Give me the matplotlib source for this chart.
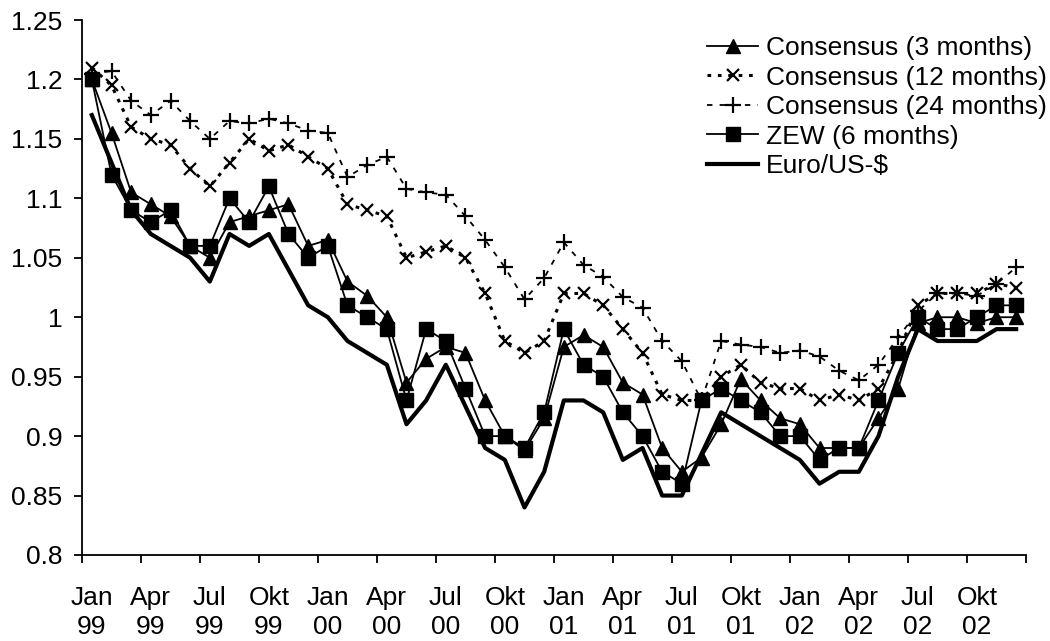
import matplotlib
matplotlib.use("Agg")
import matplotlib.pyplot as plt
import numpy as np

plt.rcParams['font.family'] = ['Liberation Sans', 'DejaVu Sans']

# quarterly tick labels, Jan 99 .. Okt 02 (48 monthly points)
tick_labels = ["Jan\n99", "Apr\n99", "Jul\n99", "Okt\n99",
               "Jan\n00", "Apr\n00", "Jul\n00", "Okt\n00",
               "Jan\n01", "Apr\n01", "Jul\n01", "Okt\n01",
               "Jan\n02", "Apr\n02", "Jul\n02", "Okt\n02"]

cons3 = [1.20, 1.155, 1.105, 1.095, 1.085, 1.06, 1.05, 1.08, 1.085, 1.09, 1.095, 1.06,
         1.065, 1.03, 1.018, 1.00, 0.945, 0.965, 0.975, 0.97, 0.93, 0.90, 0.888, 0.915,
         0.975, 0.985, 0.975, 0.945, 0.935, 0.89, 0.87, 0.882, 0.91, 0.948, 0.93, 0.915,
         0.91, 0.89, 0.89, 0.89, 0.915, 0.94, 0.995, 1.00, 1.00, 0.995, 1.00, 1.00]
cons12 = [1.21, 1.195, 1.16, 1.15, 1.145, 1.125, 1.11, 1.13, 1.15, 1.14, 1.145, 1.135,
          1.125, 1.095, 1.09, 1.085, 1.05, 1.055, 1.06, 1.05, 1.02, 0.98, 0.97, 0.98,
          1.02, 1.02, 1.01, 0.99, 0.97, 0.935, 0.93, 0.93, 0.95, 0.96, 0.945, 0.94,
          0.94, 0.93, 0.935, 0.93, 0.94, 0.97, 1.01, 1.02, 1.02, 1.02, 1.028, 1.025]
cons24 = [1.205, 1.207, 1.182, 1.17, 1.182, 1.165, 1.15, 1.165, 1.163, 1.167, 1.163, 1.157,
          1.155, 1.118, 1.128, 1.135, 1.108, 1.105, 1.103, 1.085, 1.065, 1.042, 1.015, 1.033,
          1.063, 1.044, 1.034, 1.017, 1.008, 0.98, 0.963, 0.93, 0.98, 0.977, 0.975, 0.97,
          0.972, 0.967, 0.955, 0.947, 0.96, 0.983, 1.005, 1.02, 1.02, 1.018, 1.028, 1.042]
zew = [1.20, 1.12, 1.09, 1.08, 1.09, 1.06, 1.06, 1.10, 1.08, 1.11, 1.07, 1.05,
       1.06, 1.01, 1.00, 0.99, 0.93, 0.99, 0.98, 0.94, 0.90, 0.90, 0.89, 0.92,
       0.99, 0.96, 0.95, 0.92, 0.90, 0.87, 0.86, 0.93, 0.94, 0.93, 0.92, 0.90,
       0.90, 0.88, 0.89, 0.89, 0.93, 0.97, 1.00, 0.99, 0.99, 1.00, 1.01, 1.01]
euro = [1.17, 1.13, 1.09, 1.07, 1.06, 1.05, 1.03, 1.07, 1.06, 1.07, 1.04, 1.01,
        1.00, 0.98, 0.97, 0.96, 0.91, 0.93, 0.96, 0.925, 0.89, 0.88, 0.84, 0.87,
        0.93, 0.93, 0.92, 0.88, 0.89, 0.85, 0.85, 0.885, 0.92, 0.91, 0.90, 0.89,
        0.88, 0.86, 0.87, 0.87, 0.90, 0.95, 0.99, 0.98, 0.98, 0.98, 0.99, 0.99]

y_ticks = [0.8, 0.85, 0.9, 0.95, 1.0, 1.05, 1.1, 1.15, 1.2, 1.25]
y_labels = ["0.8", "0.85", "0.9", "0.95", "1", "1.05", "1.1", "1.15", "1.2", "1.25"]

x = np.arange(len(euro))
fs = 19

fig = plt.figure(figsize=(10.5, 6.41), dpi=100)
ax = fig.add_axes([82 / 1050, 1 - 555 / 641, 944 / 1050, 535 / 641])

ax.plot(x, cons3, color='black', lw=1.3, marker='^', ms=9.5, label='Consensus (3 months)')
ax.plot(x, cons12, color='black', lw=2.2, ls=(0, (1.2, 2.2)), marker='x', ms=9, mew=1.6,
        label='Consensus (12 months)')
ax.plot(x, cons24, color='black', lw=1.3, ls=(0, (3, 4)), marker='+', ms=11, mew=1.6,
        label='Consensus (24 months)')
ax.plot(x, zew, color='black', lw=1.3, marker='s', ms=9.5, label='ZEW (6 months)')
ax.plot(x, euro, color='black', lw=3, label='Euro/US-$')

ax.set_xlim(-0.5, len(euro) - 0.5)
ax.set_ylim(0.8, 1.25)

# category boundaries get tick marks, labels sit on the category centres
ax.set_xticks(np.arange(-0.5, len(euro), 3))
ax.set_xticklabels([])
ax.set_xticks(np.arange(0, len(euro), 3), minor=True)
ax.set_xticklabels(tick_labels, minor=True, fontsize=fs, linespacing=1.3)
ax.tick_params(axis='x', which='major', direction='out', length=6, width=1.3)
ax.tick_params(axis='x', which='minor', length=0, pad=22)

ax.set_yticks(y_ticks)
ax.set_yticklabels(y_labels, fontsize=fs)
ax.tick_params(axis='y', direction='out', length=6, width=1.3, pad=8)

for side in ['top', 'right']:
    ax.spines[side].set_visible(False)
for side in ['left', 'bottom']:
    ax.spines[side].set_linewidth(1.3)

leg = ax.legend(loc='upper left', bbox_to_anchor=(707 / 1050, 1 - 36 / 641),
                bbox_transform=fig.transFigure, frameon=False, fontsize=fs,
                handlelength=1.95, handletextpad=0.3, labelspacing=0.21,
                borderpad=0, borderaxespad=0, numpoints=1)

plt.savefig("out.png", dpi=100)
